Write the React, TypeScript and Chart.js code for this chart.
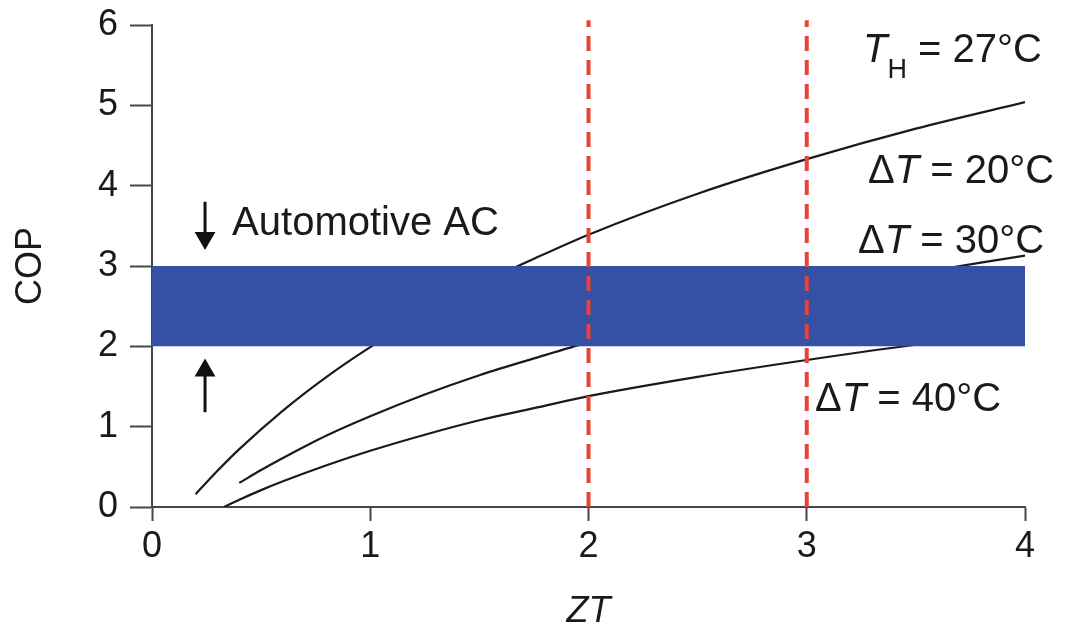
import React, { useEffect, useRef } from 'react';
import { Chart, registerables } from 'chart.js';

Chart.register(...registerables);

// Axis ticks
const ZT_TICKS = [0, 1, 2, 3, 4];
const COP_TICKS = [0, 1, 2, 3, 4, 5, 6];

// COP vs ZT, T_H = 27 °C
const ZT_DT20 = [0.2, 0.3, 0.4, 0.6, 0.8, 1.0, 1.25, 1.5, 1.75, 2.0, 2.5, 3.0, 3.5, 4.0];
const COP_DT20 = [0.16, 0.45, 0.72, 1.2, 1.62, 1.99, 2.4, 2.77, 3.09, 3.39, 3.9, 4.33, 4.71, 5.04];

const ZT_DT30 = [0.4, 0.5, 0.6, 0.8, 1.0, 1.25, 1.5, 1.75, 2.0, 2.5, 3.0, 3.5, 4.0];
const COP_DT30 = [0.3, 0.46, 0.61, 0.89, 1.13, 1.4, 1.64, 1.85, 2.05, 2.38, 2.67, 2.91, 3.13];

const ZT_DT40 = [0.33, 0.4, 0.5, 0.6, 0.8, 1.0, 1.25, 1.5, 1.75, 2.0, 2.5, 3.0, 3.5, 4.0];
const COP_DT40 = [0.0, 0.09, 0.21, 0.32, 0.52, 0.7, 0.9, 1.08, 1.23, 1.38, 1.62, 1.83, 2.02, 2.17];

// Automotive AC COP range
const AC_COP_RANGE = [2, 3];
const AC_ZT_RANGE = [0, 4];

// Reference ZT values (dashed markers)
const ZT_MARKERS = [2, 3];
const MARKER_COP_SPAN = [0, 6.06];

// Arrows bracketing the AC band: [tail, head] in COP
const ARROW_ZT = 0.243;
const ARROW_DOWN = [3.8, 3.35];
const ARROW_UP = [1.18, 1.7];

const FONT = '"Liberation Sans", Arial, Helvetica, sans-serif';
const INK = '#1a1a1a';
const AXIS = '#474747';
const BAND = '#3451a5';
const RED = '#ea4236';

type Run = { text: string; italic?: boolean; sub?: boolean };
type Label = { zt: number; cop: number; runs: Run[] };

const LABELS: Label[] = [
  {
    zt: 3.258,
    cop: 5.54,
    runs: [{ text: 'T', italic: true }, { text: 'H', sub: true }, { text: ' = 27°C' }],
  },
  { zt: 3.281, cop: 4.033, runs: [{ text: 'Δ' }, { text: 'T', italic: true }, { text: ' = 20°C' }] },
  { zt: 3.235, cop: 3.162, runs: [{ text: 'Δ' }, { text: 'T', italic: true }, { text: ' = 30°C' }] },
  { zt: 3.038, cop: 1.195, runs: [{ text: 'Δ' }, { text: 'T', italic: true }, { text: ' = 40°C' }] },
  { zt: 0.367, cop: 3.386, runs: [{ text: 'Automotive AC' }] },
];

const pairs = (xs: number[], ys: number[]) => xs.map((x, i) => ({ x, y: ys[i] }));

const labelPlugin = {
  id: 'curveLabels',
  afterDatasetsDraw(chart: any) {
    const { ctx } = chart;
    const xs = chart.scales.x;
    const ys = chart.scales.y;
    ctx.save();
    ctx.fillStyle = INK;
    ctx.textAlign = 'left';
    ctx.textBaseline = 'alphabetic';
    for (const lab of LABELS) {
      let px = xs.getPixelForValue(lab.zt);
      const py = ys.getPixelForValue(lab.cop);
      for (const run of lab.runs) {
        const size = run.sub ? 27 : 40;
        ctx.font = `${run.italic ? 'italic ' : ''}${size}px ${FONT}`;
        ctx.fillText(run.text, px, py + (run.sub ? 16 : 0));
        px += ctx.measureText(run.text).width;
      }
    }
    ctx.restore();
  },
};

export default function App() {
  const canvasRef = useRef<HTMLCanvasElement | null>(null);

  useEffect(() => {
    const canvas = canvasRef.current;
    if (!canvas) return;

    const curve = (xs: number[], ys: number[], label: string) => ({
      label,
      data: pairs(xs, ys),
      borderColor: INK,
      borderWidth: 2.2,
      pointRadius: 0,
      cubicInterpolationMode: 'monotone' as const,
      fill: false,
      order: 3,
    });

    const marker = (zt: number) => ({
      label: `ZT = ${zt}`,
      data: MARKER_COP_SPAN.map((y) => ({ x: zt, y })),
      borderColor: RED,
      borderWidth: 4,
      borderDash: [15, 9],
      pointRadius: 0,
      fill: false,
      clip: false as const,
      order: 0,
    });

    const arrow = (span: number[], rotation: number, label: string) => ({
      label,
      data: span.map((y) => ({ x: ARROW_ZT, y })),
      borderColor: '#111',
      borderWidth: 3,
      pointRadius: [0, 12],
      pointStyle: 'triangle',
      pointRotation: rotation,
      pointBackgroundColor: '#111',
      pointBorderWidth: 0,
      fill: false,
      clip: false as const,
      order: 0,
    });

    const chart = new Chart(canvas, {
      type: 'line',
      data: {
        datasets: [
          curve(ZT_DT20, COP_DT20, 'ΔT = 20°C'),
          curve(ZT_DT30, COP_DT30, 'ΔT = 30°C'),
          curve(ZT_DT40, COP_DT40, 'ΔT = 40°C'),
          {
            label: 'Automotive AC (upper)',
            data: AC_ZT_RANGE.map((x) => ({ x, y: AC_COP_RANGE[1] })),
            borderWidth: 0,
            borderColor: BAND,
            backgroundColor: BAND,
            pointRadius: 0,
            fill: '+1',
            order: 1,
          },
          {
            label: 'Automotive AC (lower)',
            data: AC_ZT_RANGE.map((x) => ({ x, y: AC_COP_RANGE[0] })),
            borderWidth: 0,
            borderColor: BAND,
            backgroundColor: BAND,
            pointRadius: 0,
            fill: false,
            order: 1,
          },
          ...ZT_MARKERS.map(marker),
          arrow(ARROW_DOWN, 180, 'below'),
          arrow(ARROW_UP, 0, 'above'),
        ] as any,
      },
      options: {
        responsive: false,
        animation: false,
        events: [],
        layout: { padding: { top: 25, right: 40, left: 0, bottom: 0 } },
        plugins: {
          legend: { display: false },
          tooltip: { enabled: false },
        },
        scales: {
          x: {
            type: 'linear',
            min: ZT_TICKS[0],
            max: ZT_TICKS[ZT_TICKS.length - 1],
            afterBuildTicks: (scale: any) => {
              scale.ticks = ZT_TICKS.map((value) => ({ value }));
            },
            afterFit: (scale: any) => {
              scale.height = 127;
              scale.paddingLeft = 0;
              scale.paddingRight = 0;
            },
            ticks: {
              color: INK,
              font: { family: FONT, size: 36 },
              padding: 4,
              maxRotation: 0,
            },
            grid: {
              display: true,
              drawOnChartArea: false,
              drawTicks: true,
              tickLength: 14,
              tickWidth: 2,
              color: AXIS,
            },
            border: { display: true, color: AXIS, width: 2 },
            title: {
              display: true,
              text: 'ZT',
              color: INK,
              font: { family: FONT, size: 36, style: 'italic' },
              padding: { top: 0, bottom: 0 },
            },
          },
          y: {
            type: 'linear',
            min: COP_TICKS[0],
            max: COP_TICKS[COP_TICKS.length - 1],
            afterBuildTicks: (scale: any) => {
              scale.ticks = COP_TICKS.map((value) => ({ value }));
            },
            afterFit: (scale: any) => {
              scale.width = 152;
              scale.paddingTop = 0;
              scale.paddingBottom = 0;
            },
            ticks: {
              color: INK,
              font: { family: FONT, size: 36 },
              padding: 12,
            },
            grid: {
              display: true,
              drawOnChartArea: false,
              drawTicks: true,
              tickLength: 22,
              tickWidth: 2,
              color: AXIS,
            },
            border: { display: true, color: AXIS, width: 2 },
            title: {
              display: true,
              text: 'COP',
              color: INK,
              font: { family: FONT, size: 36 },
              padding: { top: 9, bottom: 0 },
            },
          },
        },
      },
      plugins: [labelPlugin],
    });

    return () => chart.destroy();
  }, []);

  return (
    <div style={{ position: 'absolute', left: 0, top: 0, width: 1065, height: 634, background: '#fff' }}>
      <canvas ref={canvasRef} width={1065} height={634} />
    </div>
  );
}
